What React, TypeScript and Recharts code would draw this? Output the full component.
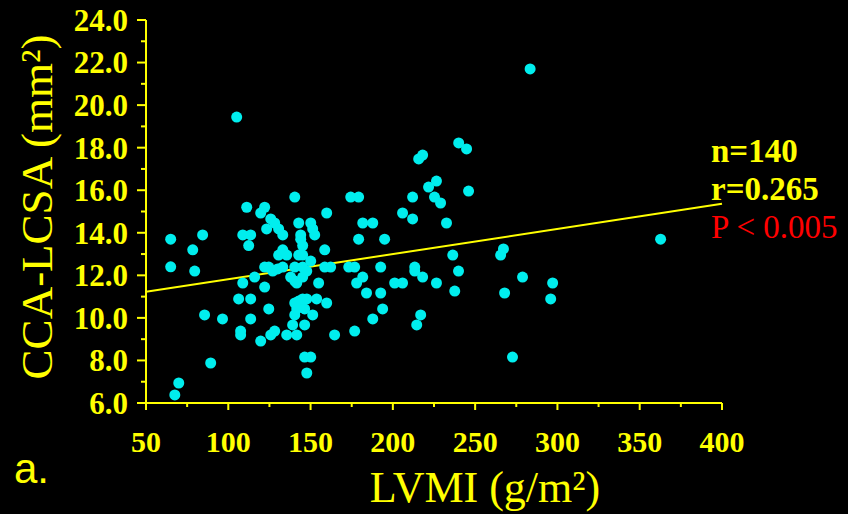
import { ScatterChart, Scatter, XAxis, YAxis, ReferenceLine } from 'recharts';

// LVMI (g/m²) vs CCA-LCSA (mm²)
const lvmi = [
  105.1, 65.0, 84.4, 111.2, 122.1, 119.7, 140.4, 125.8, 128.2, 130.6,
  133.1, 123.3, 142.8, 150.1, 151.3, 152.5, 144.0, 144.0, 145.2, 159.8,
  108.8, 113.6, 112.4, 78.4, 133.1, 158.6, 65.0, 79.6, 130.6, 135.5,
  142.8, 145.2, 150.1, 122.1, 124.6, 127.0, 133.1, 140.4, 145.2, 147.7,
  158.6, 162.2, 116.0, 137.9, 140.4, 145.2, 141.6, 108.8, 154.9, 122.1,
  106.3, 113.6, 140.4, 142.8, 145.2, 147.7, 153.7, 159.8, 124.6, 141.6,
  146.4, 140.4, 151.3, 85.6, 96.5, 113.6, 139.1, 146.4, 107.5, 107.5,
  128.2, 125.8, 135.5, 141.6, 119.7, 164.6, 89.3, 146.4, 150.1, 147.7,
  69.9, 67.5, 240.0, 244.8, 215.7, 218.1, 226.5, 221.7, 246.0, 174.4,
  179.2, 212.0, 225.3, 229.0, 205.9, 212.0, 181.7, 187.8, 232.6, 179.2,
  195.0, 267.2, 236.4, 265.5, 173.2, 176.8, 192.6, 213.3, 213.3, 181.7,
  178.0, 218.1, 239.9, 201.1, 205.9, 226.5, 278.8, 297.1, 184.0, 192.6,
  237.6, 267.9, 295.9, 193.8, 216.9, 187.8, 214.5, 176.8, 272.7, 362.7,
  283.4, 130.0,
];
const lcsa = [
  19.44, 13.7, 13.9, 15.2, 15.2, 14.93, 15.68, 14.65, 14.46, 14.18,
  13.9, 14.18, 14.46, 14.46, 14.18, 13.9, 13.9, 13.7, 13.4, 14.93,
  13.9, 13.9, 13.4, 13.2, 13.2, 13.2, 12.4, 12.2, 12.95, 12.95,
  12.95, 12.95, 12.67, 12.39, 12.39, 12.2, 12.39, 12.39, 12.39, 12.2,
  12.39, 12.39, 11.92, 11.92, 11.73, 11.92, 11.64, 11.64, 11.64, 11.45,
  10.89, 10.89, 10.7, 10.79, 10.89, 10.89, 10.89, 10.7, 10.42, 10.42,
  10.42, 10.14, 10.14, 10.14, 9.95, 9.95, 9.67, 9.67, 9.38, 9.2,
  9.38, 9.2, 9.2, 9.2, 8.91, 9.2, 7.88, 8.16, 8.16, 7.41,
  6.94, 6.38, 18.22, 17.94, 17.47, 17.65, 16.43, 16.15, 15.96, 15.68,
  15.68, 15.68, 15.68, 15.4, 14.93, 14.65, 14.46, 14.46, 14.46, 13.7,
  13.7, 13.24, 12.95, 12.95, 12.39, 12.39, 12.39, 12.39, 12.2, 11.92,
  11.64, 11.92, 12.2, 11.64, 11.64, 11.64, 11.92, 11.64, 11.17, 11.17,
  11.26, 11.17, 10.89, 10.42, 10.14, 9.95, 9.67, 9.38, 8.16, 13.7,
  21.7, 12.3,
];

const fitX = [50, 400];
const fitY = [11.23, 15.36];

const xTicks = [50, 75, 100, 125, 150, 175, 200, 225, 250, 275, 300, 325, 350, 375, 400];
const yTicks = [6, 7, 8, 9, 10, 11, 12, 13, 14, 15, 16, 17, 18, 19, 20, 21, 22, 23, 24];

const stats = ['n=140', 'r=0.265'];
const pText = 'P < 0.005';

const YELLOW = '#ffff00';
const CYAN = '#00eeee';
const SERIF = '"Liberation Serif", "Times New Roman", serif';

const points = lvmi.map((x, i) => ({ x, y: lcsa[i] }));

const YTick = (props: any) => {
  const { x, y, payload } = props;
  const major = payload.value % 2 === 0;
  return (
    <g>
      <line x1={x - (major ? 9 : 5)} x2={x} y1={y} y2={y} stroke={YELLOW} strokeWidth={2} />
      {major && (
        <text
          x={x - 18}
          y={y}
          dy="0.35em"
          textAnchor="end"
          fill={YELLOW}
          fontFamily={SERIF}
          fontWeight="bold"
          fontSize={31}
        >
          {payload.value.toFixed(1)}
        </text>
      )}
    </g>
  );
};

const XTick = (props: any) => {
  const { x, y, payload } = props;
  const major = payload.value % 50 === 0;
  return (
    <g>
      <line x1={x} x2={x} y1={y} y2={y + (major ? 7 : 4)} stroke={YELLOW} strokeWidth={2} />
      {major && (
        <text
          x={x}
          y={y + 49}
          textAnchor="middle"
          fill={YELLOW}
          fontFamily={SERIF}
          fontWeight="bold"
          fontSize={30}
        >
          {payload.value}
        </text>
      )}
    </g>
  );
};

export default function App() {
  return (
    <div style={{ position: 'relative', width: 848, height: 514, background: '#000' }}>
      <style>{'body{margin:0;background:#000}'}</style>
      <ScatterChart width={848} height={514} margin={{ top: 20, right: 126, bottom: 0, left: 0 }}>
        <XAxis
          type="number"
          dataKey="x"
          domain={[50, 400]}
          ticks={xTicks}
          interval={0}
          height={111}
          tickSize={0}
          tickMargin={0}
          tick={<XTick />}
          axisLine={{ stroke: YELLOW, strokeWidth: 2 }}
          tickLine={false}
        />
        <YAxis
          type="number"
          dataKey="y"
          domain={[6, 24]}
          ticks={yTicks}
          interval={0}
          width={146}
          tickSize={0}
          tickMargin={0}
          tick={<YTick />}
          axisLine={{ stroke: YELLOW, strokeWidth: 2 }}
          tickLine={false}
        />
        <ReferenceLine
          segment={[
            { x: fitX[0], y: fitY[0] },
            { x: fitX[1], y: fitY[1] },
          ]}
          stroke={YELLOW}
          strokeWidth={2}
        />
        <Scatter
          data={points}
          fill={CYAN}
          isAnimationActive={false}
          shape={(p: any) => <circle cx={p.cx} cy={p.cy} r={5.5} fill={CYAN} />}
        />
      </ScatterChart>
      <svg
        width={848}
        height={514}
        style={{ position: 'absolute', left: 0, top: 0, pointerEvents: 'none' }}
      >
        <text
          x={36}
          y={207}
          dy="0.36em"
          transform="rotate(-90 36 207)"
          textAnchor="middle"
          fill={YELLOW}
          fontFamily={SERIF}
          fontSize={45}
        >
          CCA-LCSA (mm²)
        </text>
        <text x={485} y={502} textAnchor="middle" fill={YELLOW} fontFamily={SERIF} fontSize={44}>
          LVMI (g/m²)
        </text>
        <text x={14} y={483} fill={YELLOW} fontFamily='"Liberation Sans", Arial, sans-serif' fontSize={42}>
          a.
        </text>
        {stats.map((s, i) => (
          <text
            key={s}
            x={711}
            y={162 + i * 38}
            fill={YELLOW}
            fontFamily={SERIF}
            fontWeight="bold"
            fontSize={33}
          >
            {s}
          </text>
        ))}
        <text x={711} y={238} fill="#ff0000" fontFamily={SERIF} fontSize={33}>
          {pText}
        </text>
      </svg>
    </div>
  );
}
